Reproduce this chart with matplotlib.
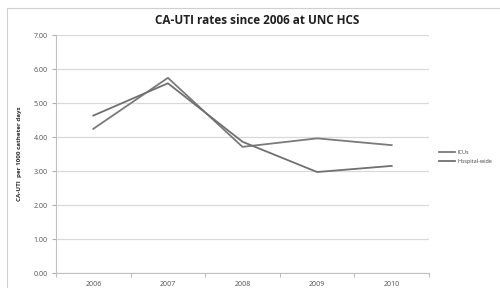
import numpy as np
import matplotlib
matplotlib.use('Agg')
import matplotlib.pyplot as plt
from matplotlib.patches import Rectangle

# data
years = ['2006', '2007', '2008', '2009', '2010']
icus = [4.24, 5.74, 3.71, 3.96, 3.76]
hospital = [4.63, 5.58, 3.86, 2.97, 3.15]
yticks = [0, 1, 2, 3, 4, 5, 6, 7]

plt.rcParams['font.family'] = ['Open Sans', 'DejaVu Sans']

fig = plt.figure(figsize=(5, 2.88), dpi=100)
W, H = 500, 288
# plot area: x 56..429, y 35..273 (pixels)
ax = fig.add_axes([56 / W, 1 - 273 / H, (429 - 56) / W, (273 - 35) / H])

# outer chart border
fig.patches.append(Rectangle((7 / W, -0.01), 1.0, 1 - 8 / H + 0.01, transform=fig.transFigure,
                             fill=False, edgecolor='#d0d0d0', linewidth=0.8))

x = np.arange(len(years))
ax.plot(x, icus, color='#7a7a7a', lw=1.3, label='ICUs')
ax.plot(x, hospital, color='#707070', lw=1.3, label='Hospital-wide')

ax.set_xlim(-0.5, len(years) - 0.5)
ax.set_ylim(0, 7)
ax.set_yticks(yticks)
ax.set_yticklabels(['%.2f' % v for v in yticks])
ax.set_xticks(x)
ax.set_xticklabels(years)
ax.set_xticks(np.arange(-0.5, len(years), 1), minor=True)
ax.tick_params(axis='x', which='major', length=0, labelsize=5, colors='#505050', pad=6)
ax.tick_params(axis='x', which='minor', length=3, color='#b0b0b0', direction='out')
ax.tick_params(axis='y', length=3, color='#b0b0b0', labelsize=5, colors='#505050', pad=3)

ax.grid(axis='y', color='#d9d9d9', lw=0.9)
ax.set_axisbelow(True)
for s in ['top', 'right']:
    ax.spines[s].set_visible(False)
for s in ['left', 'bottom']:
    ax.spines[s].set_color('#c0c0c0')
    ax.spines[s].set_linewidth(0.8)

ax.set_ylabel('CA-UTI  per 1000 catheter days', fontsize=4.5, fontweight='bold', color='#303030', labelpad=8)

fig.text(257 / W, 1 - 20 / H, 'CA-UTI rates since 2006 at UNC HCS', ha='center', va='center',
         fontsize=8.5, fontweight='bold', color='#202020')

leg = fig.legend(loc='upper left', bbox_to_anchor=(436 / W, 1 - 147 / H), frameon=False,
                 fontsize=4, handlelength=3, labelspacing=0.8, handletextpad=0.4, borderpad=0)
for t in leg.get_texts():
    t.set_color('#404040')

fig.savefig('out.png', dpi=100)
